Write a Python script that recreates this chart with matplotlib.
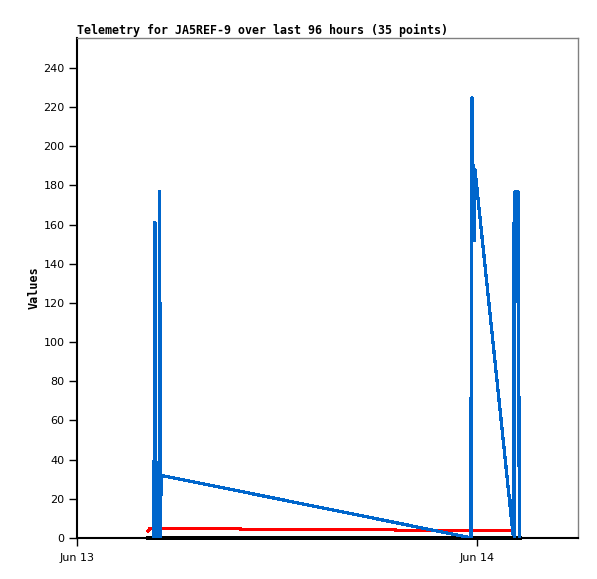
import numpy as np
import pandas as pd
import matplotlib
matplotlib.use('Agg')
import matplotlib.pyplot as plt
import matplotlib.dates as mdates

# hours after Jun 13 00:00 and values
blue_h = [4.62, 4.64, 4.66, 4.68, 4.70, 4.92, 4.95, 4.98, 5.02, 5.04,
          23.40, 23.64, 23.66, 23.68, 23.70, 23.72, 23.76, 23.80, 23.84, 23.88,
          26.16, 26.22, 26.26, 26.28, 26.46, 26.50, 26.52, 26.56]
blue_v = [0, 120, 161, 161, 0, 0, 177, 105, 0, 32,
          0.5, 0, 217, 57, 225, 193, 153, 190, 152, 188,
          2, 161, 0, 177, 177, 133, 44, 0]

red_h = [4.26, 4.38, 9.78, 9.80, 19.08, 19.10, 26.16]
red_v = [3.5, 5.0, 5.0, 4.5, 4.5, 4.0, 4.0]

black_h = [4.26, 26.58]
black_v = [0, 0]

t0 = pd.Timestamp('2024-06-13 00:00')

def to_time(hours):
    return [t0 + pd.Timedelta(hours=h) for h in hours]

fig = plt.figure(figsize=(5.97, 5.79), dpi=100)
ax = fig.add_axes([77/597, 41/579, 501/597, 500/579])

ax.plot(to_time(black_h), black_v, color='black', lw=1.6, antialiased=False, clip_on=False, zorder=3)
ax.plot(to_time(red_h), red_v, color='#ff0000', lw=1.6, antialiased=False, zorder=4)
ax.plot(to_time(blue_h), blue_v, color='#0066cc', lw=1.6, antialiased=False, zorder=5)

ax.set_xlim(t0, t0 + pd.Timedelta(hours=30.06))
ax.set_ylim(0, 255.3)
ax.set_yticks(np.arange(0, 241, 20))
ax.xaxis.set_major_locator(mdates.DayLocator())
ax.xaxis.set_major_formatter(mdates.DateFormatter('%b %d'))

for lab in ax.get_xticklabels() + ax.get_yticklabels():
    lab.set_family('DejaVu Sans')
    lab.set_fontsize(8)
ax.tick_params(axis='both', direction='out', length=6, width=1, pad=3)
ax.tick_params(axis='x', pad=5)

for s in ['left', 'bottom']:
    ax.spines[s].set_color('black')
    ax.spines[s].set_linewidth(1.5)
for s in ['top', 'right']:
    ax.spines[s].set_color('#808080')
    ax.spines[s].set_linewidth(1)

ax.set_title('Telemetry for JA5REF-9 over last 96 hours (35 points)',
             loc='left', family='DejaVu Sans Mono', fontweight='bold',
             fontsize=8.4, pad=3)
ax.set_ylabel('Values', family='DejaVu Sans Mono', fontweight='bold',
              fontsize=8.5, labelpad=2)

fig.savefig('out.png', dpi=100)
